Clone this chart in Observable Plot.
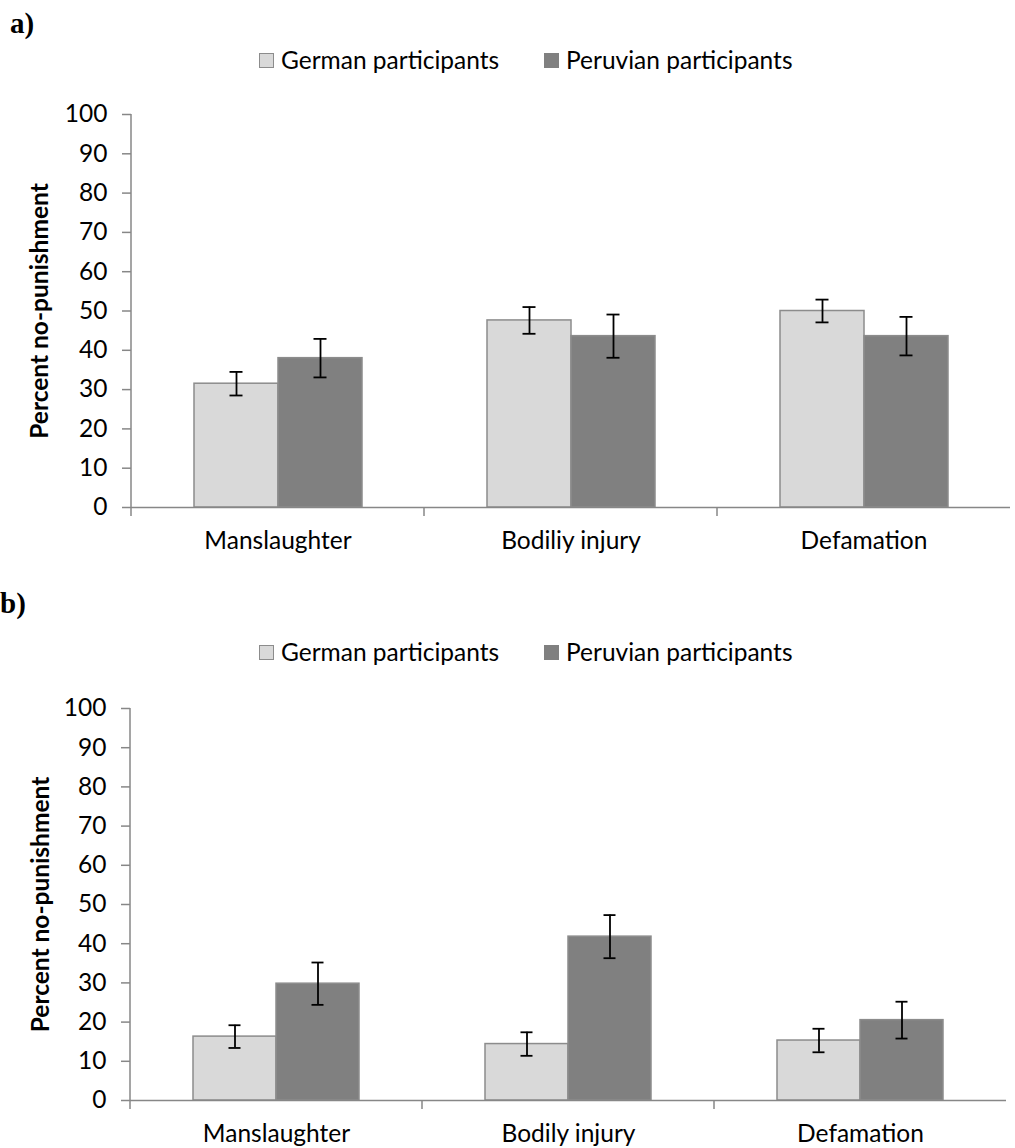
<!DOCTYPE html>
<html>
<head>
<meta charset="utf-8">
<script src="https://cdn.jsdelivr.net/npm/d3@7"></script>
<script src="https://cdn.jsdelivr.net/npm/@observablehq/plot@0.6"></script>
<style>
  html, body { margin: 0; padding: 0; background: white; }
  #page { position: relative; width: 1015px; height: 1148px; overflow: hidden; font-family: Lato, sans-serif; }
  .panel { position: absolute; font-family: "Liberation Serif", serif; font-weight: bold; font-size: 29px; line-height: 1; }
  .legend-item { position: absolute; display: flex; align-items: center; font-size: 24.5px; color: black; line-height: 1; white-space: nowrap; }
  .sw { width: 15px; height: 15px; box-sizing: border-box; margin-right: 7px; }
  .chart { position: absolute; left: 0; }
</style>
</head>
<body>
<div id="page"></div>
<script>
// ---- data ----
const categoriesA = ["Manslaughter", "Bodiliy injury", "Defamation"];
const categoriesB = ["Manslaughter", "Bodily injury", "Defamation"];
const groups = ["German", "Peruvian"];
const legendLabels = ["German participants", "Peruvian participants"];
const germanA = [31.5, 47.6, 50.0];
const germanErrA = [3.0, 3.4, 2.9];
const peruvianA = [38.0, 43.6, 43.6];
const peruvianErrA = [4.9, 5.5, 4.9];
const germanB = [16.3, 14.4, 15.3];
const germanErrB = [2.9, 3.0, 3.0];
const peruvianB = [29.8, 41.8, 20.5];
const peruvianErrB = [5.4, 5.5, 4.7];
const yTicks = [0, 10, 20, 30, 40, 50, 60, 70, 80, 90, 100];
const yLabel = "Percent no-punishment";

const fills = ["#d9d9d9", "#808080"];
const axisGray = "#878787";

function buildTable(cats, g, ge, p, pe) {
  const rows = [];
  cats.forEach((c, i) => {
    rows.push({category: c, group: groups[0], value: g[i], lo: g[i] - ge[i], hi: g[i] + ge[i]});
    rows.push({category: c, group: groups[1], value: p[i], lo: p[i] - pe[i], hi: p[i] + pe[i]});
  });
  return rows;
}

function makeChart(cats, rows, opt) {
  const plot = Plot.plot({
    width: 1015,
    height: opt.height,
    marginTop: opt.marginTop,
    marginBottom: opt.marginBottom,
    marginLeft: opt.marginLeft,
    marginRight: opt.marginRight,
    style: {fontFamily: "Lato, sans-serif", fontSize: "24.5px", color: "black", background: "white", overflow: "visible"},
    fx: {domain: cats, padding: 0, axis: null, label: null},
    x: {domain: groups, paddingInner: 0, paddingOuter: 0.744, axis: null},
    y: {domain: [0, 100], axis: null},
    color: {domain: groups, range: fills},
    marks: [
      Plot.axisY({ticks: yTicks, tickSize: 9, tickPadding: 15, stroke: axisGray, strokeWidth: 1.5, fill: "black",
                  fontSize: 24.5, tickFormat: d => String(d), label: yLabel, labelAnchor: "center",
                  labelArrow: "none", labelOffset: opt.labelOffset}),
      Plot.axisFx({anchor: "bottom", tickSize: 0, tickPadding: 24, fontSize: 24.5, label: null, fill: "black"}),
      Plot.barY(rows, {fx: "category", x: "group", y: "value", fill: "group", stroke: "#8c8c8c", strokeWidth: 1.5}),
      Plot.ruleY([0], {stroke: axisGray, strokeWidth: 1.5}),
      Plot.ruleX(rows, {fx: "category", x: "group", y1: "lo", y2: "hi", stroke: "black", strokeWidth: 1.8}),
      Plot.tickY(rows, {fx: "category", x: "group", y: "lo", stroke: "black", strokeWidth: 1.8, insetLeft: 35.5, insetRight: 35.5}),
      Plot.tickY(rows, {fx: "category", x: "group", y: "hi", stroke: "black", strokeWidth: 1.8, insetLeft: 35.5, insetRight: 35.5})
    ]
  });
  // y-axis label bold
  d3.select(plot).selectAll('g[aria-label="y-axis label"] text')
    .style("font-weight", "bold").style("font-size", "24.5px");
  // axis line and category separators from the library's scales
  const fx = plot.scale("fx");
  const y = plot.scale("y");
  const g = d3.select(plot).append("g").attr("stroke", axisGray).attr("stroke-width", 1.5);
  const y0 = y.apply(0), y100 = y.apply(100);
  g.append("line").attr("x1", fx.apply(cats[0])).attr("x2", fx.apply(cats[0]))
    .attr("y1", y100).attr("y2", y0 + 9);
  cats.slice(1).forEach(c => {
    g.append("line").attr("x1", fx.apply(c)).attr("x2", fx.apply(c)).attr("y1", y0).attr("y2", y0 + 9);
  });
  return plot;
}

const page = document.getElementById("page");

function addPanel(label, left, top, legendTop, svgTop, cats, rows, opt) {
  const p = document.createElement("div");
  p.className = "panel";
  p.style.left = left + "px";
  p.style.top = top + "px";
  p.textContent = label;
  page.appendChild(p);
  const lefts = [259, 544];
  legendLabels.forEach((t, i) => {
    const it = document.createElement("div");
    it.className = "legend-item";
    it.style.left = lefts[i] + "px";
    it.style.top = legendTop + "px";
    const sw = document.createElement("div");
    sw.className = "sw";
    sw.style.background = fills[i];
    sw.style.border = "1.5px solid " + (i === 0 ? "#8c8c8c" : fills[1]);
    const tx = document.createElement("span");
    tx.textContent = t;
    it.appendChild(sw); it.appendChild(tx);
    page.appendChild(it);
  });
  const c = document.createElement("div");
  c.className = "chart";
  c.style.top = svgTop + "px";
  c.appendChild(makeChart(cats, rows, opt));
  page.appendChild(c);
}

addPanel("a)", 10, 9, 48, 94, categoriesA, buildTable(categoriesA, germanA, germanErrA, peruvianA, peruvianErrA),
  {height: 476, marginTop: 20, marginBottom: 63, marginLeft: 131, marginRight: 5, labelOffset: 101});
addPanel("b)", 0, 589, 640, 688, categoriesB, buildTable(categoriesB, germanB, germanErrB, peruvianB, peruvianErrB),
  {height: 460, marginTop: 20, marginBottom: 48, marginLeft: 129, marginRight: 8, labelOffset: 99});
</script>
</body>
</html>
